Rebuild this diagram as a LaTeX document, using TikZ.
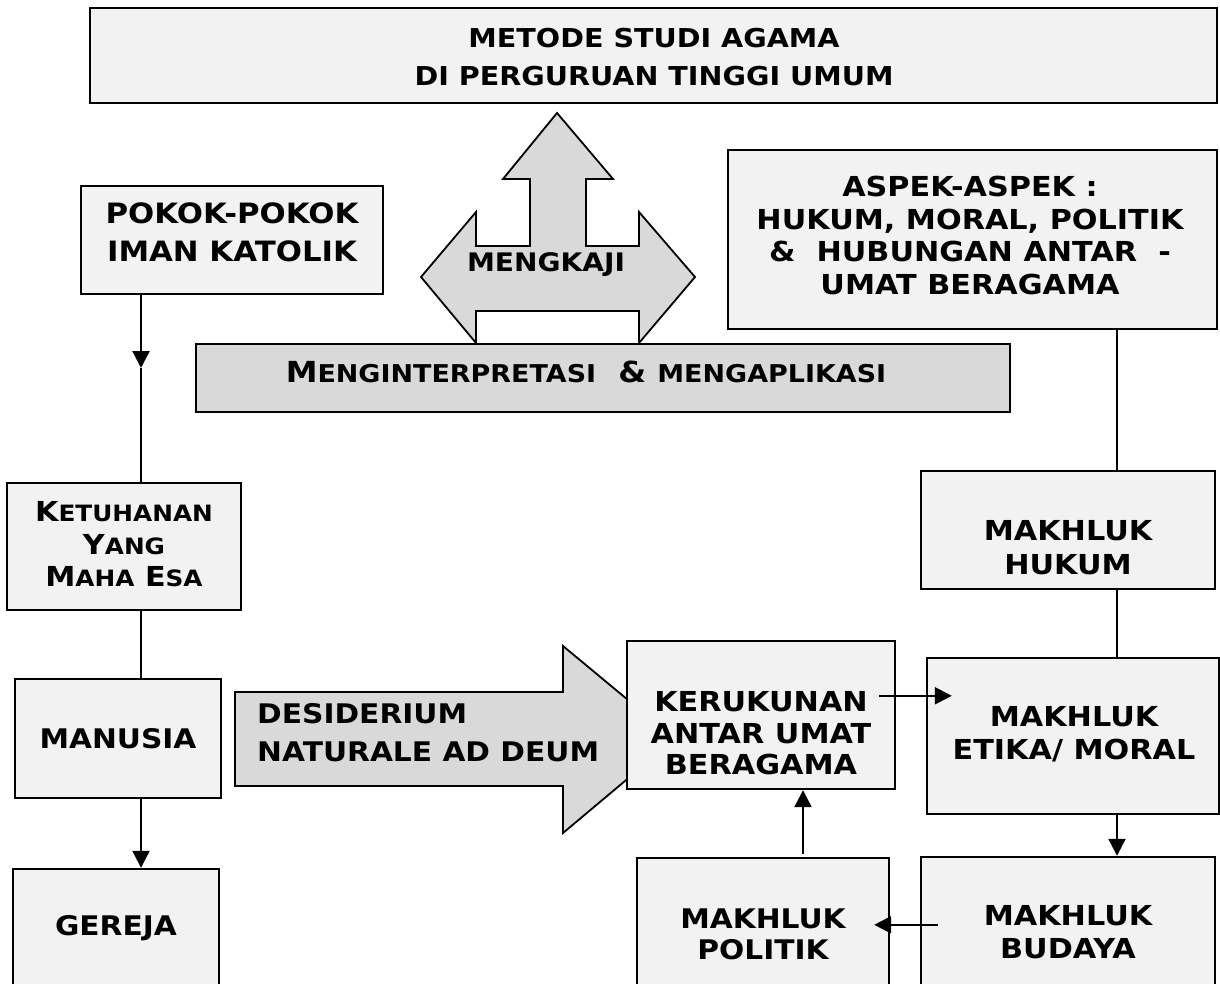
\documentclass[tikz,border=0pt]{standalone}
\usepackage{fontspec}
\setmainfont{DejaVu Sans}[FakeStretch=1.1]
\usetikzlibrary{arrows.meta,calc}
\definecolor{boxfill}{HTML}{F2F2F2}
\definecolor{grayfill}{HTML}{D9D9D9}
\newcommand\fsz[2]{\fontsize{#1}{#2}\selectfont}
\newcommand\smcp[1]{{\fontsize{22.5}{22.5}\selectfont #1}}
\newcommand\smcpb[1]{{\fontsize{24.5}{24.5}\selectfont #1}}
\begin{document}
\begin{tikzpicture}[x=1pt,y=-1pt,
  box/.style={draw=black,line width=2.4pt,fill=boxfill,inner sep=0pt},
  graybox/.style={draw=black,line width=2.4pt,fill=grayfill,inner sep=0pt},
  shapeline/.style={draw=black,line width=1.8pt,fill=grayfill,line join=miter},
  txt/.style={font=\bfseries\fsz{27}{32}, align=center, inner sep=0pt},
  conn/.style={line width=2.2pt},
  arr/.style={line width=2.2pt,-{Triangle[length=17pt,width=17pt]}}
]
\clip (0,0) rectangle (1220,984);
\fill[white] (0,0) rectangle (1220,984);

% top box
\node[box,minimum width=1127pt,minimum height=95pt] (top) at (653.5,55.5) {};
\node[txt,font=\bfseries\fsz{26}{38}] (top-t) at (654,57) {METODE STUDI AGAMA\\DI PERGURUAN TINGGI UMUM};

% mengkaji arrow shape
\draw[shapeline] (421,277) -- (476,212) -- (476,246) -- (530,246) -- (530,179) -- (503,179)
  -- (557,113) -- (613,179) -- (586,179) -- (586,246) -- (639,246) -- (639,212)
  -- (695,277) -- (639,343) -- (639,311) -- (476,311) -- (476,343) -- cycle;
\node[txt,font=\bfseries\fsz{25.5}{25.5}] (mengkaji-t) at (546,265) {MENGKAJI};

% gray box
\node[graybox,minimum width=814pt,minimum height=68pt] (gray) at (603,378) {};
\node[txt,font=\bfseries\fsz{29}{29}] (gray-t) at (586,372) {M\smcpb{ENGINTERPRETASI}~~\&~\smcpb{MENGAPLIKASI}};

% left column
\node[box,minimum width=302pt,minimum height=108pt] (pokok) at (232,240) {};
\node[txt,font=\bfseries\fsz{28}{38}] (pokok-t) at (232,232) {POKOK-POKOK\\IMAN KATOLIK};

\node[box,minimum width=234pt,minimum height=127pt] (ketu) at (124,546.5) {};
\node[txt,font=\bfseries\fsz{27.5}{32.5}] (ketu-t) at (124,544.5) {K\smcp{ETUHANAN}\\Y\smcp{ANG}\\M\smcp{AHA} E\smcp{SA}};

\node[box,minimum width=206pt,minimum height=119pt] (manusia) at (118,738.5) {};
\node[txt] (manusia-t) at (118,739) {MANUSIA};

\node[box,minimum width=206pt,minimum height=131pt] (gereja) at (116,934.5) {};
\node[txt] (gereja-t) at (116,928) {GEREJA};

% desiderium arrow
\draw[shapeline] (235,692) -- (563,692) -- (563,646) -- (675,739) -- (563,833) -- (563,786) -- (235,786) -- cycle;
\node[txt,font=\bfseries\fsz{27}{38},align=left,anchor=west] (desid-t) at (257,733) {DESIDERIUM\\NATURALE AD DEUM};

% middle
\node[box,minimum width=268pt,minimum height=148pt] (keruk) at (761,715) {};
\node[txt,font=\bfseries\fsz{27.5}{31.5}] (keruk-t) at (761,733.5) {KERUKUNAN\\ANTAR UMAT\\BERAGAMA};

\node[box,minimum width=252pt,minimum height=142pt] (politik) at (763,929) {};
\node[txt,font=\bfseries\fsz{27}{31}] (politik-t) at (763,934.5) {MAKHLUK\\POLITIK};

% right column
\node[box,minimum width=489pt,minimum height=179pt] (aspek) at (972.5,239.5) {};
\node[txt,font=\bfseries\fsz{27.5}{32.5}] (aspek-t) at (970,235.5) {ASPEK-ASPEK :\\HUKUM, MORAL, POLITIK\\\&~~HUBUNGAN ANTAR~~-\\UMAT BERAGAMA};

\node[box,minimum width=294pt,minimum height=118pt] (hukum) at (1068,530) {};
\node[txt,font=\bfseries\fsz{27.5}{34}] (hukum-t) at (1068,548) {MAKHLUK\\HUKUM};

\node[box,minimum width=292pt,minimum height=156pt] (etika) at (1073,736) {};
\node[txt,font=\bfseries\fsz{27.5}{33}] (etika-t) at (1074,734.5) {MAKHLUK\\ETIKA/ MORAL};

\node[box,minimum width=294pt,minimum height=143pt] (budaya) at (1068,928.5) {};
\node[txt,font=\bfseries\fsz{27.5}{33}] (budaya-t) at (1068,932.5) {MAKHLUK\\BUDAYA};

% connectors
\coordinate (lc) at (141,0);
\coordinate (rc) at (1117,0);
\coordinate (k1) at (141,368);
\draw[arr] (pokok.south -| lc) -- (k1);
\draw[conn] (k1) -- (ketu.north -| lc);
\draw[conn] (ketu.south -| lc) -- (manusia.north -| lc);
\draw[arr] (manusia.south -| lc) -- (gereja.north -| lc);

\draw[conn] (aspek.south -| rc) -- (hukum.north -| rc);
\draw[conn] (hukum.south -| rc) -- (etika.north -| rc);
\draw[arr] (etika.south -| rc) -- (budaya.north -| rc);

\coordinate (a1) at ($(keruk.north east)+(-17,56)$);
\coordinate (a2) at ($(etika.north west)+(26,39)$);
\draw[arr] (a1) -- (a1 -| a2);

\coordinate (b1) at ($(budaya.north west)+(18,69)$);
\coordinate (b2) at ($(politik.north east)+(-16,68)$);
\draw[arr] (b1) -- (b1 -| b2);

\coordinate (p1) at ($(politik.north)+(40,-3)$);
\draw[arr] (p1) -- (p1 |- keruk.south);
\end{tikzpicture}
\end{document}
